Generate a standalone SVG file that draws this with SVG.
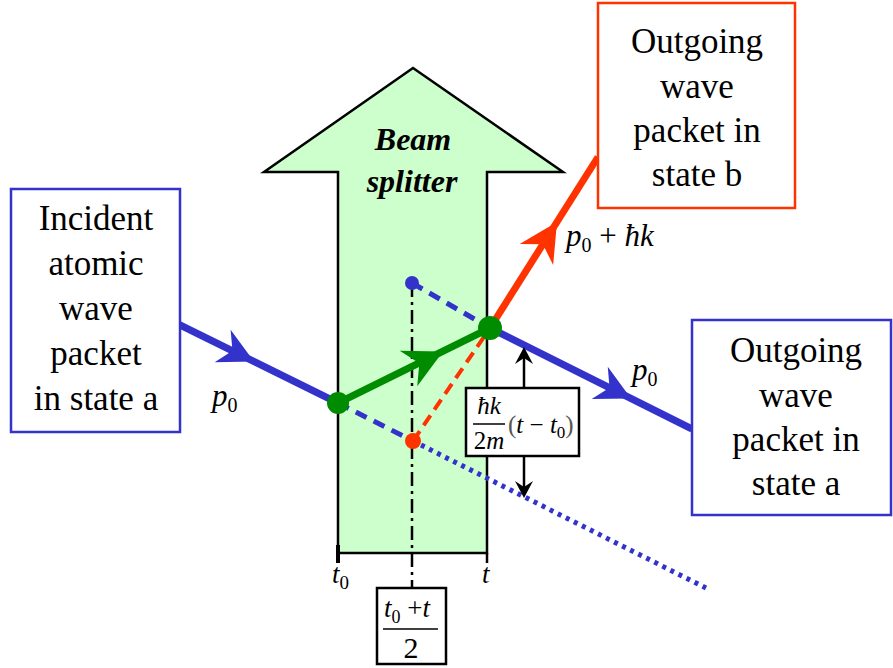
<svg xmlns="http://www.w3.org/2000/svg" width="893" height="668" viewBox="0 0 893 668" font-family="Times New Roman, Times, Liberation Serif, Tinos, FreeSerif, Nimbus Roman, DejaVu Serif, serif">
<style>
  text { fill: #000; font-family: "Times New Roman", Times, "Liberation Serif", Tinos, FreeSerif, "Nimbus Roman", "DejaVu Serif", serif; }
  .box { font-size: 35px; text-anchor: middle; }
  .lbl { font-size: 31px; font-style: italic; }
  .sub { font-size: 20px; font-style: normal; }
  .math { font-size: 25px; font-style: italic; }
  .up { font-style: normal; }
  .blue { stroke: #3333cc; fill: none; }
  .red { stroke: #ff3300; fill: none; }
  .green { stroke: #008c00; fill: none; }
</style>
<defs>
  <path id="head" d="M0,0 L-35,-18 L-24,0 L-35,18 Z"/>
  <path id="khead" d="M0,0 L-17,-9 L-11,0 L-17,9 Z"/>
</defs>

<g id="beam-splitter">
  <polygon points="413,68 563,172 487,172 487,553 338,553 338,172 264,172" fill="#ccffcc" stroke="#000" stroke-width="2.5" stroke-linejoin="miter"/>
  <line x1="338" y1="545" x2="338" y2="563" stroke="#000" stroke-width="4"/>
  <line x1="487" y1="553" x2="487" y2="563" stroke="#000" stroke-width="2.5"/>
  <text x="413" y="150" style="font-size:32px;font-weight:bold;font-style:italic" text-anchor="middle">Beam</text>
  <text x="412" y="192" style="font-size:32px;font-weight:bold;font-style:italic" text-anchor="middle">splitter</text>
</g>

<g id="connectors">
  <line x1="412" y1="283" x2="412" y2="588" stroke="#000" stroke-width="2.5" stroke-dasharray="14 5 3 5"/>
  <line class="blue" x1="178" y1="324" x2="338" y2="403" stroke-width="7"/>
  <line class="blue" x1="338" y1="403" x2="413" y2="441" stroke-width="5" stroke-dasharray="12 8"/>
  <line class="blue" x1="413" y1="441" x2="706" y2="588" stroke-width="5" stroke-dasharray="4 5"/>
  <line class="blue" x1="412" y1="283" x2="490" y2="328" stroke-width="5" stroke-dasharray="12 8"/>
  <line class="blue" x1="490" y1="328" x2="692" y2="429" stroke-width="7"/>
  <line class="red" x1="413" y1="441" x2="490" y2="328" stroke-width="4" stroke-dasharray="12 7"/>
  <line class="red" x1="490" y1="328" x2="598" y2="157" stroke-width="7"/>
  <line class="green" x1="338" y1="403" x2="490" y2="328" stroke-width="7"/>
  <use href="#head" transform="translate(254,361.5) rotate(26.3)" fill="#3333cc"/>
  <use href="#head" transform="translate(631,398.5) rotate(26.6)" fill="#3333cc"/>
  <use href="#head" transform="translate(557,222) rotate(-57.7) scale(1.1)" fill="#ff3300"/>
  <use href="#head" transform="translate(443,351.5) rotate(-26.3) scale(1.1)" fill="#008c00"/>
  <line x1="524" y1="352" x2="524" y2="388" stroke="#000" stroke-width="2.5"/>
  <line x1="524" y1="456" x2="524" y2="493" stroke="#000" stroke-width="2.5"/>
  <use href="#khead" transform="translate(524,347) rotate(-90)" fill="#000"/>
  <use href="#khead" transform="translate(524,498) rotate(90)" fill="#000"/>
  <circle cx="412" cy="283" r="7" fill="#3333cc"/>
  <circle cx="413" cy="441" r="8" fill="#ff3300"/>
  <circle cx="338" cy="403" r="11" fill="#008c00"/>
  <circle cx="490" cy="328" r="12" fill="#008c00"/>
</g>

<g id="incident-box">
  <rect x="11" y="189" width="169" height="243" fill="#fff" stroke="#3333cc" stroke-width="2.5"/>
  <text class="box" x="96" y="230">Incident</text>
  <text class="box" x="96" y="275">atomic</text>
  <text class="box" x="96" y="320">wave</text>
  <text class="box" x="96" y="365">packet</text>
  <text class="box" x="96" y="410">in state a</text>
</g>

<g id="outgoing-b-box">
  <rect x="598" y="3" width="197" height="205" fill="#fff" stroke="#ff3300" stroke-width="2.5"/>
  <text class="box" x="697" y="53">Outgoing</text>
  <text class="box" x="697" y="98">wave</text>
  <text class="box" x="697" y="142">packet in</text>
  <text class="box" x="697" y="186">state b</text>
</g>

<g id="outgoing-a-box">
  <rect x="692" y="320" width="199" height="195" fill="#fff" stroke="#3333cc" stroke-width="2.5"/>
  <text class="box" x="796" y="362">Outgoing</text>
  <text class="box" x="796" y="407">wave</text>
  <text class="box" x="796" y="451">packet in</text>
  <text class="box" x="796" y="495">state a</text>
</g>

<g id="labels">
  <text class="lbl" x="212" y="406">p<tspan class="sub" dy="6">0</tspan></text>
  <text class="lbl" x="632" y="380">p<tspan class="sub" dy="6">0</tspan></text>
  <text class="lbl" x="566" y="246">p<tspan class="sub" dy="6">0</tspan><tspan class="up" dy="-6"> + </tspan>ħk</text>
  <text class="math" x="332" y="583" style="font-size:27px">t<tspan class="sub" dy="6" style="font-size:19px">0</tspan></text>
  <text class="math" x="482" y="583" style="font-size:27px">t</text>
</g>

<g id="displacement-box">
  <rect x="466" y="388" width="113" height="68" fill="#fff" stroke="#000" stroke-width="2.5"/>
  <text class="math" x="489" y="414" text-anchor="middle">ħk</text>
  <line x1="473" y1="424" x2="505" y2="424" stroke="#000" stroke-width="1.5"/>
  <text class="math" x="489" y="449" text-anchor="middle"><tspan class="up">2</tspan>m</text>
  <text class="math" x="508" y="433"><tspan class="up" style="fill:#555">(</tspan>t<tspan class="up"> − </tspan>t<tspan class="up" style="font-size:17px" dy="5">0</tspan><tspan class="up" style="fill:#555" dy="-5">)</tspan></text>
</g>

<g id="midtime-box">
  <rect x="377" y="588" width="69" height="76" fill="#fff" stroke="#000" stroke-width="2.5"/>
  <text class="math" x="384" y="617" style="font-size:27px">t<tspan class="up" style="font-size:18px" dy="6">0</tspan><tspan class="up" dy="-6"> +</tspan>t</text>
  <line x1="383" y1="629" x2="438" y2="629" stroke="#000" stroke-width="1.5"/>
  <text x="411" y="658" text-anchor="middle" style="font-size:30px">2</text>
</g>
</svg>
